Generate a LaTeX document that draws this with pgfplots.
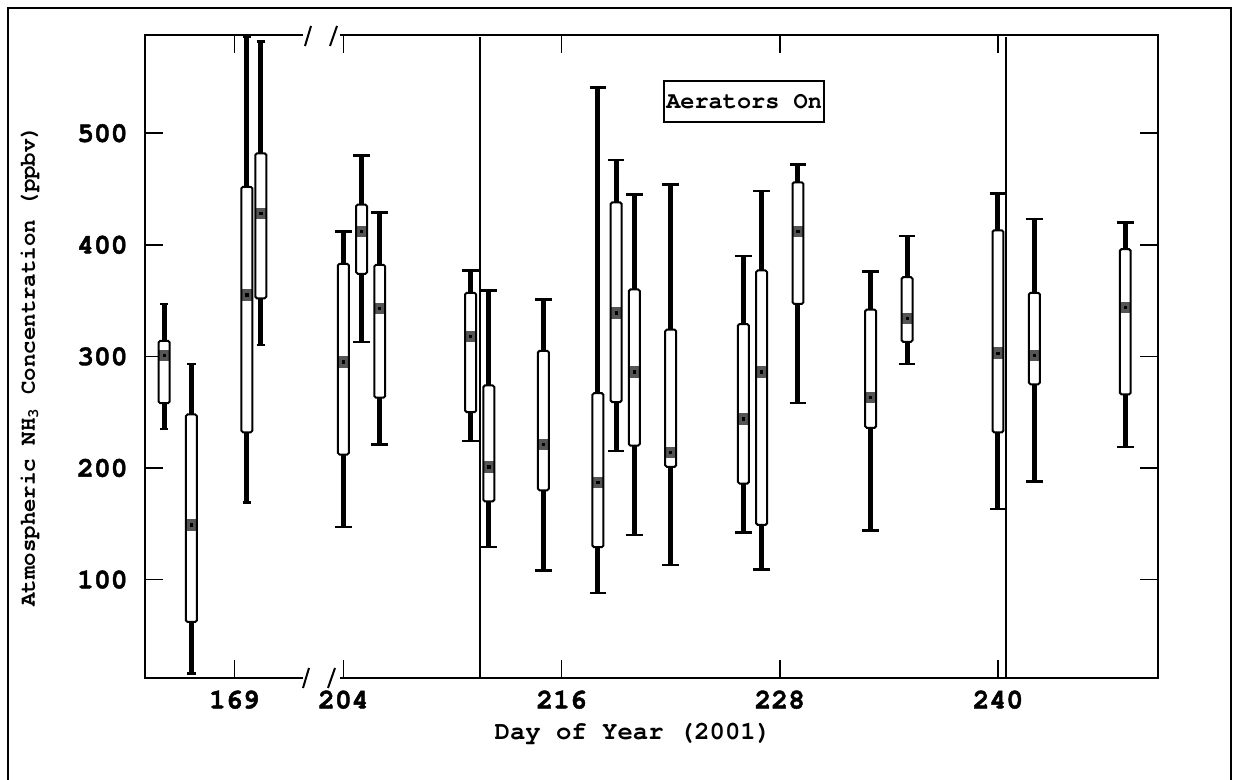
\documentclass[border=0pt]{standalone}
\usepackage{fontspec}
\setmainfont{TeX Gyre Cursor}
\newfontfamily\heavyfont{TeX Gyre Cursor}[BoldFeatures={FakeBold=1.6}]
\usepackage{pgfplots}
\pgfplotsset{compat=1.18}
\usepgfplotslibrary{statistics}
\definecolor{medgray}{RGB}{85,85,85}

% Box-and-whisker style: white box, grey median band with a centre dot,
% heavy whisker stems with thin caps.
\pgfplotsset{
  boxplot/draw/box/.code={%
    \fill[white] (boxplot box cs:\pgfplotsboxplotvalue{lower quartile},0)
      rectangle (boxplot box cs:\pgfplotsboxplotvalue{upper quartile},1);
    \fill[medgray] ([yshift=-2.6pt]boxplot box cs:\pgfplotsboxplotvalue{median},0)
      rectangle ([yshift=2.6pt]boxplot box cs:\pgfplotsboxplotvalue{median},1);
    \fill[black] ([xshift=-0.55pt,yshift=-0.55pt]boxplot box cs:\pgfplotsboxplotvalue{median},0.5)
      rectangle ([xshift=0.55pt,yshift=0.55pt]boxplot box cs:\pgfplotsboxplotvalue{median},0.5);
    \draw[black, line width=1pt, rounded corners=0.8pt]
      (boxplot box cs:\pgfplotsboxplotvalue{lower quartile},0)
      rectangle (boxplot box cs:\pgfplotsboxplotvalue{upper quartile},1);
  },
  boxplot/draw/median/.code={},
  boxplot/draw/lower whisker/.code={%
    \draw[black, line width=2.5pt]
      (boxplot cs:\pgfplotsboxplotvalue{lower quartile}) --
      (boxplot cs:\pgfplotsboxplotvalue{lower whisker});
    \draw[black, line width=1.2pt]
      (boxplot whisker cs:\pgfplotsboxplotvalue{lower whisker},0) --
      (boxplot whisker cs:\pgfplotsboxplotvalue{lower whisker},1);
  },
  boxplot/draw/upper whisker/.code={%
    \draw[black, line width=2.5pt]
      (boxplot cs:\pgfplotsboxplotvalue{upper quartile}) --
      (boxplot cs:\pgfplotsboxplotvalue{upper whisker});
    \draw[black, line width=1.2pt]
      (boxplot whisker cs:\pgfplotsboxplotvalue{upper whisker},0) --
      (boxplot whisker cs:\pgfplotsboxplotvalue{upper whisker},1);
  },
  narrowcap/.style={boxplot/box extend=0.6, boxplot/whisker extend=0.46},
  widecap/.style={boxplot/box extend=0.6, boxplot/whisker extend=0.92},
}

\begin{document}
\begin{tikzpicture}
\useasboundingbox (0,0) rectangle (616.5pt,390pt);
% page frame (open at the bottom)
\draw[line width=1pt] (4pt,-3pt) -- (4pt,386pt) -- (615.5pt,386pt) -- (615.5pt,-3pt);

\begin{axis}[
  at={(72.5pt,51pt)}, anchor=south west,
  scale only axis, width=506.5pt, height=321.5pt,
  xmin=164.09, xmax=219.8, ymin=11.8, ymax=588,
  axis line style={line width=1pt},
  tick style={black, line width=0.75pt},
  major tick length=9pt,
  tick align=inside,
  xtick={169,175,187,199,211},
  xticklabels={169,204,216,228,240},
  ytick={100,200,300,400,500},
  ticklabel style={font=\fontsize{14}{16}\selectfont\heavyfont\bfseries},
  /pgf/number format/assume math mode=true,
  xticklabel style={anchor=base, inner sep=0pt, yshift=-15.2pt},
  yticklabel style={anchor=east, inner sep=0pt, xshift=-8.5pt},
  xlabel={Day of Year (2001)},
  xlabel style={font=\fontsize{12.8}{14}\selectfont\bfseries,
    at={(axis description cs:0.4817,-0.087)}, anchor=center},
  ylabel={Atmospheric NH\textsubscript{3} Concentration (ppbv)},
  ylabel style={font=\fontsize{11.2}{13}\selectfont\bfseries,
    at={(axis description cs:-0.1135,0.485)}, anchor=center},
  boxplot/draw direction=y,
  clip=false,
]
% aerator periods
\draw[line width=0.75pt] (axis cs:182.52,11.8) -- (axis cs:182.52,586.2);
\draw[line width=0.75pt] (axis cs:211.45,11.8) -- (axis cs:211.45,586.2);

% days 165-170 (before the break)
\addplot[narrowcap, boxplot prepared={draw position=165.14, lower whisker=235, lower quartile=258, median=301, upper quartile=314, upper whisker=347}] coordinates {};
\addplot[narrowcap, boxplot prepared={draw position=166.64, lower whisker=16, lower quartile=62, median=149, upper quartile=248, upper whisker=293}] coordinates {};
\addplot[narrowcap, boxplot prepared={draw position=169.69, lower whisker=169, lower quartile=232, median=355, upper quartile=452, upper whisker=586}] coordinates {};
\addplot[narrowcap, boxplot prepared={draw position=170.46, lower whisker=310, lower quartile=352, median=428, upper quartile=482, upper whisker=582}] coordinates {};

% days 204-247 (plotted at day - 29)
\addplot[widecap, boxplot prepared={draw position=175, lower whisker=147, lower quartile=212, median=295, upper quartile=383, upper whisker=412}] coordinates {};
\addplot[widecap, boxplot prepared={draw position=176, lower whisker=313, lower quartile=374, median=412, upper quartile=436, upper whisker=480}] coordinates {};
\addplot[widecap, boxplot prepared={draw position=177, lower whisker=221, lower quartile=263, median=343, upper quartile=382, upper whisker=429}] coordinates {};
\addplot[widecap, boxplot prepared={draw position=182, lower whisker=224, lower quartile=250, median=318, upper quartile=357, upper whisker=377}] coordinates {};
\addplot[widecap, boxplot prepared={draw position=183, lower whisker=129, lower quartile=170, median=201, upper quartile=274, upper whisker=359}] coordinates {};
\addplot[widecap, boxplot prepared={draw position=186, lower whisker=108, lower quartile=180, median=221, upper quartile=305, upper whisker=351}] coordinates {};
\addplot[widecap, boxplot prepared={draw position=189, lower whisker=88, lower quartile=129, median=187, upper quartile=267, upper whisker=541}] coordinates {};
\addplot[widecap, boxplot prepared={draw position=190, lower whisker=215, lower quartile=259, median=339, upper quartile=438, upper whisker=476}] coordinates {};
\addplot[widecap, boxplot prepared={draw position=191, lower whisker=140, lower quartile=220, median=286, upper quartile=360, upper whisker=445}] coordinates {};
\addplot[widecap, boxplot prepared={draw position=193, lower whisker=113, lower quartile=201, median=214, upper quartile=324, upper whisker=454}] coordinates {};
\addplot[widecap, boxplot prepared={draw position=197, lower whisker=142, lower quartile=186, median=244, upper quartile=329, upper whisker=390}] coordinates {};
\addplot[widecap, boxplot prepared={draw position=198, lower whisker=109, lower quartile=149, median=286, upper quartile=377, upper whisker=448}] coordinates {};
\addplot[widecap, boxplot prepared={draw position=200, lower whisker=258, lower quartile=347, median=412, upper quartile=456, upper whisker=472}] coordinates {};
\addplot[widecap, boxplot prepared={draw position=204, lower whisker=144, lower quartile=236, median=263, upper quartile=342, upper whisker=376}] coordinates {};
\addplot[widecap, boxplot prepared={draw position=206, lower whisker=293, lower quartile=313, median=334, upper quartile=371, upper whisker=408}] coordinates {};
\addplot[widecap, boxplot prepared={draw position=211, lower whisker=163, lower quartile=232, median=303, upper quartile=413, upper whisker=446}] coordinates {};
\addplot[widecap, boxplot prepared={draw position=213, lower whisker=188, lower quartile=275, median=301, upper quartile=357, upper whisker=423}] coordinates {};
\addplot[widecap, boxplot prepared={draw position=218, lower whisker=219, lower quartile=266, median=344, upper quartile=396, upper whisker=420}] coordinates {};

\node[draw, line width=1pt, fill=white, minimum width=80pt, minimum height=20.5pt, inner sep=0pt,
  font=\fontsize{11.8}{13}\selectfont\bfseries] at (axis cs:197.04,528) {Aerators On};
\end{axis}

% axis break between day 172 and day 204
\fill[white] (151.5pt,48.5pt) rectangle (170pt,53.5pt);
\fill[white] (151.5pt,370pt) rectangle (170pt,375pt);
\draw[line width=1pt] (151.5pt,46pt) -- (154.5pt,56pt);
\draw[line width=1pt] (164pt,46pt) -- (167.5pt,56pt);
\draw[line width=1pt] (152.5pt,367pt) -- (155.5pt,377pt);
\draw[line width=1pt] (165pt,367pt) -- (168.5pt,377pt);
\end{tikzpicture}
\end{document}
